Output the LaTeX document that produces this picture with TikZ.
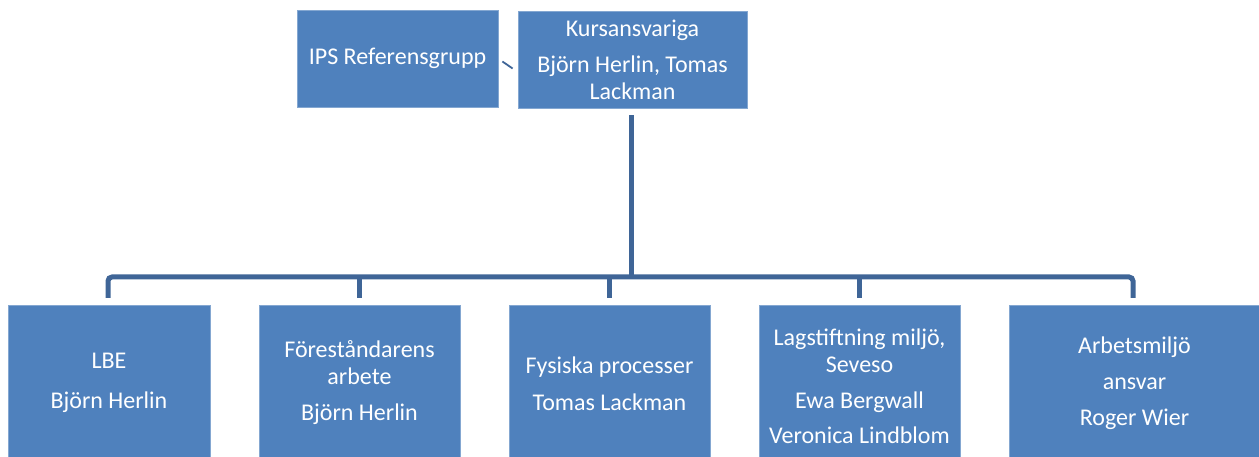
\documentclass[tikz,border=0pt]{standalone}
\usepackage{fontspec}
\setmainfont{Carlito}
\definecolor{boxblue}{RGB}{79,129,189}
\definecolor{lineblue}{RGB}{63,101,151}
\begin{document}
\begin{tikzpicture}[x=1pt,y=-1pt,
  orgbox/.style={rectangle, fill=boxblue, draw=boxblue!70!white, line width=0.8pt,
    text=white, align=center, inner sep=0pt, font=\fontsize{24}{27}\selectfont},
  conn/.style={draw=lineblue, line width=5pt},
  thinconn/.style={draw=lineblue, line width=1.8pt}]
\useasboundingbox (0,0) rectangle (1259,457);
% top boxes
\node[orgbox, minimum width=201pt, minimum height=97pt] (ips) at (397.5,58.5) {IPS Referensgrupp};
\node[orgbox, minimum width=229pt, minimum height=97pt] (kurs) at (632.5,59.5)
  {Kursansvariga\\[9pt]Björn Herlin, Tomas\\Lackman};
% bottom boxes
\node[orgbox, anchor=north, minimum width=202pt, minimum height=155pt] (b1) at (109,305)
  {LBE\\[13pt]Björn Herlin};
\node[orgbox, anchor=north, minimum width=201pt, minimum height=155pt] (b2) at (359.5,305)
  {Föreståndarens\\arbete\\[9pt]Björn Herlin};
\node[orgbox, anchor=north, minimum width=201pt, minimum height=157pt] (b3) at (609.5,305)
  {Fysiska processer\\[10pt]Tomas Lackman};
\node[orgbox, anchor=north, minimum width=201pt, minimum height=162pt] (b4) at (859.5,305)
  {Lagstiftning miljö,\\Seveso\\[9pt]Ewa Bergwall\\[8pt]Veronica Lindblom};
\node[orgbox, anchor=north, minimum width=251pt, minimum height=156pt] (b5) at (1134.5,305)
  {Arbetsmiljö\\[9pt]ansvar\\[9pt]Roger Wier};
% connectors
\coordinate (bus) at (631,277);
\draw[thinconn] ([xshift=4pt,yshift=-3pt]ips.east) -- ([xshift=-5pt,yshift=-9pt]kurs.west);
\draw[conn] ([xshift=-1.5pt,yshift=-7pt]kurs.south) -- ([xshift=-1.5pt]kurs.south |- bus);
\draw[conn, rounded corners=4pt] ([xshift=-1pt,yshift=7pt]b1.north) |- (bus) -| ([xshift=-1.5pt,yshift=7pt]b5.north);
\draw[conn] ([yshift=7pt]b2.north) -- (b2.north |- bus);
\draw[conn] ([yshift=7pt]b3.north) -- (b3.north |- bus);
\draw[conn] ([yshift=7pt]b4.north) -- (b4.north |- bus);
\end{tikzpicture}
\end{document}
